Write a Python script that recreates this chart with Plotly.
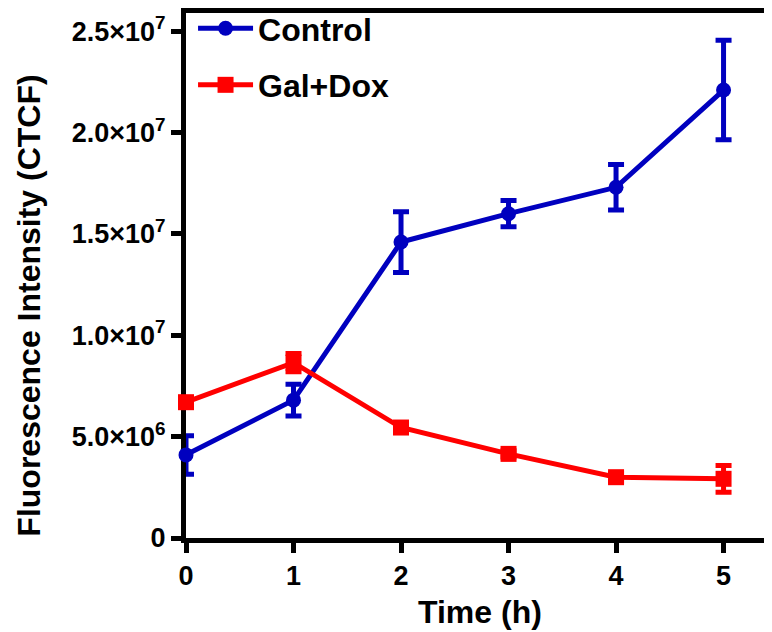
import plotly.graph_objects as go

time_h = [0, 1, 2, 3, 4, 5]
control = [4.1e6, 6.8e6, 14.6e6, 16.0e6, 17.3e6, 22.1e6]
control_err = [0.95e6, 0.78e6, 1.5e6, 0.65e6, 1.12e6, 2.45e6]
galdox = [6.7e6, 8.65e6, 5.45e6, 4.15e6, 3.0e6, 2.92e6]
galdox_err = [0.2e6, 0.45e6, 0.15e6, 0.15e6, 0.2e6, 0.66e6]

y_tickvals = [0, 5e6, 1e7, 1.5e7, 2e7, 2.5e7]
y_ticktext = ["0", "5.0×10<sup>6</sup>", "1.0×10<sup>7</sup>", "1.5×10<sup>7</sup>",
              "2.0×10<sup>7</sup>", "2.5×10<sup>7</sup>"]
x_tickvals = [0, 1, 2, 3, 4, 5]

BLUE = "#0000BF"
RED = "#FF0000"
FONT = "Arial, Liberation Sans, sans-serif"

fig = go.Figure()
fig.add_trace(go.Scatter(
    x=time_h, y=control, name="Control", mode="lines+markers",
    line=dict(color=BLUE, width=5),
    marker=dict(symbol="circle", size=15, color=BLUE),
    error_y=dict(type="data", array=control_err, visible=True, color=BLUE, thickness=5, width=8),
    cliponaxis=False, legendgroup="a",
))
fig.add_trace(go.Scatter(
    x=time_h, y=galdox, name="Gal+Dox", mode="lines+markers",
    line=dict(color=RED, width=5),
    marker=dict(symbol="square", size=16, color=RED),
    error_y=dict(type="data", array=galdox_err, visible=True, color=RED, thickness=5, width=8),
    cliponaxis=False, legendgroup="b",
))

axis_common = dict(
    showline=True, linewidth=5, linecolor="black", mirror=True,
    ticks="outside", ticklen=10, tickwidth=5, tickcolor="black",
    showgrid=False, zeroline=False, layer="below traces",
    tickfont=dict(family=FONT, size=27, color="black", weight="bold"),
)

fig.update_xaxes(range=[0, 5.46], tickmode="array", tickvals=x_tickvals,
                 ticktext=[str(v) for v in x_tickvals], **axis_common)
fig.update_yaxes(range=[0, 2.59e7], tickmode="array", tickvals=y_tickvals,
                 ticktext=y_ticktext, **axis_common)

fig.add_annotation(text="Fluorescence Intensity (CTCF)", xref="paper", yref="paper",
                   x=-0.268, y=0.442, xanchor="center", yanchor="middle", textangle=-90,
                   showarrow=False, font=dict(family=FONT, size=32, color="black", weight="bold"))
fig.add_annotation(text="Time (h)", xref="paper", yref="paper",
                   x=0.5, y=-0.14, xanchor="center", yanchor="middle",
                   showarrow=False, font=dict(family=FONT, size=32, color="black", weight="bold"))

fig.update_layout(
    width=772, height=632,
    margin=dict(l=178, r=7, t=5, b=102, autoexpand=False),
    plot_bgcolor="white", paper_bgcolor="white",
    showlegend=True,
    legend=dict(x=0.012, y=1.023, xanchor="left", yanchor="top",
                traceorder="grouped", tracegroupgap=12, itemwidth=55,
                bgcolor="rgba(0,0,0,0)",
                font=dict(family=FONT, size=32, color="black", weight="bold")),
)

fig.write_html("out.html")
